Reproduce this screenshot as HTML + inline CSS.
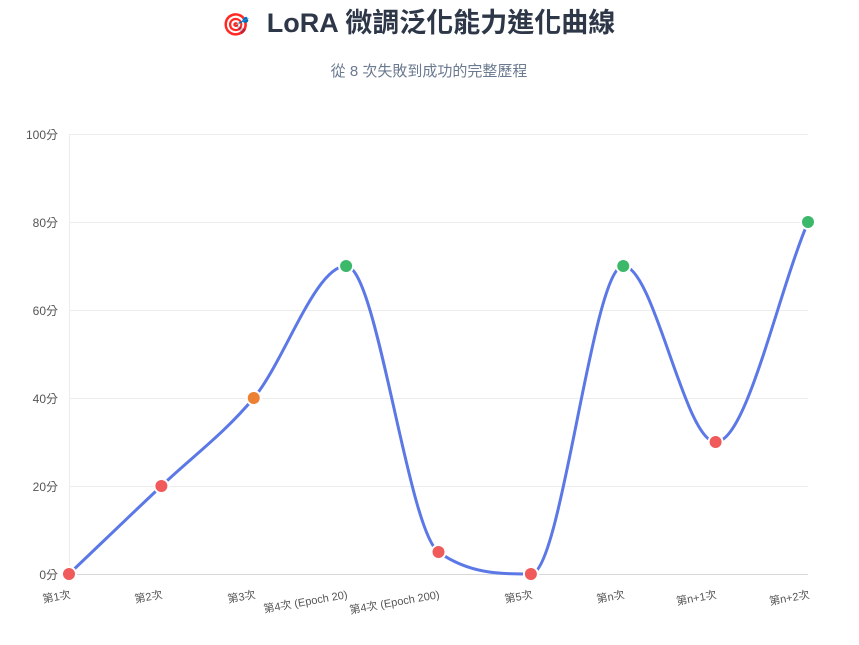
<!DOCTYPE html>
<html><head><meta charset="utf-8"><style>
body{margin:0;background:#fff;width:859px;height:640px;overflow:hidden;font-family:"Liberation Sans","Noto Sans CJK TC",sans-serif}
</style></head><body>
<svg width="859" height="640" xmlns="http://www.w3.org/2000/svg" font-family="Liberation Sans, Noto Sans CJK TC, sans-serif">
<text x="236" y="26" font-size="22" text-anchor="middle" dominant-baseline="middle">🎯</text>
<text x="441" y="25" font-size="27" font-weight="bold" fill="#2d3748" text-anchor="middle" dominant-baseline="middle">LoRA 微調泛化能力進化曲線</text>
<text x="429" y="72" font-size="15" fill="#6b7a90" text-anchor="middle" dominant-baseline="middle">從 8 次失敗到成功的完整歷程</text>
<g stroke="#ececec" stroke-width="1">
<line x1="69" y1="134.5" x2="808" y2="134.5"/><line x1="69" y1="222.5" x2="808" y2="222.5"/>
<line x1="69" y1="310.5" x2="808" y2="310.5"/><line x1="69" y1="398.5" x2="808" y2="398.5"/>
<line x1="69" y1="486.5" x2="808" y2="486.5"/><line x1="69.5" y1="134" x2="69.5" y2="574"/>
</g>
<line x1="64" y1="574.5" x2="808" y2="574.5" stroke="#d8d8d8"/>
<g font-size="12" fill="#555" text-anchor="end" dominant-baseline="middle">
<text x="58" y="136">100分</text><text x="58" y="224">80分</text><text x="58" y="312">60分</text>
<text x="58" y="400">40分</text><text x="58" y="488">20分</text><text x="58" y="576">0分</text>
</g>
<g font-size="11" fill="#555" text-anchor="end">
<text transform="translate(71,598) rotate(-10)">第1次</text>
<text transform="translate(163,598) rotate(-10)">第2次</text>
<text transform="translate(256,598) rotate(-10)">第3次</text>
<text transform="translate(348,598) rotate(-10)">第4次 (Epoch 20)</text>
<text transform="translate(440,598) rotate(-10)">第4次 (Epoch 200)</text>
<text transform="translate(533,598) rotate(-10)">第5次</text>
<text transform="translate(625,598) rotate(-10)">第n次</text>
<text transform="translate(717,598) rotate(-10)">第n+1次</text>
<text transform="translate(810,598) rotate(-10)">第n+2次</text>
</g>
<path d="M69,574 C99.8,544.7 130.2,515.3 161.4,486 C192.2,456.7 223,434.7 253.75,398 C284.5,361.3 315.3,266 346.1,266 C376.9,266 407.7,530 438.5,552 C469.3,574 500.1,574 530.9,574 C561.7,574 592.5,266 623.25,266 C654,266 684.8,442 715.6,442 C746.4,442 777.2,295.3 808,222" fill="none" stroke="#5b78e6" stroke-width="3"/>
<g stroke="#fff" stroke-width="2">
<circle cx="69" cy="574" r="7" fill="#f05a5a"/>
<circle cx="161.4" cy="486" r="7" fill="#f05a5a"/>
<circle cx="253.75" cy="398" r="7" fill="#ec8133"/>
<circle cx="346.1" cy="266" r="7" fill="#3cb86a"/>
<circle cx="438.5" cy="552" r="7" fill="#f05a5a"/>
<circle cx="530.9" cy="574" r="7" fill="#f05a5a"/>
<circle cx="623.25" cy="266" r="7" fill="#3cb86a"/>
<circle cx="715.6" cy="442" r="7" fill="#f05a5a"/>
<circle cx="808" cy="222" r="7" fill="#3cb86a"/>
</g>
</svg>
</body></html>
